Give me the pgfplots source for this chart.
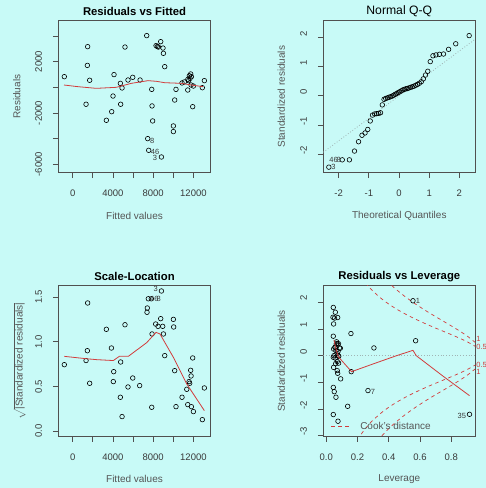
\documentclass[border=0pt]{standalone}
\usepackage{pgfplots}
\pgfplotsset{compat=1.18}
\usepackage{fontspec}
\setmainfont{Liberation Sans}
\definecolor{bgc}{HTML}{C8FAF7}
\definecolor{boxc}{HTML}{505050}
\definecolor{tickc}{HTML}{3A3A3A}
\definecolor{labc}{HTML}{555555}
\definecolor{lowc}{HTML}{D23C3C}
\definecolor{refc}{HTML}{A0B4B4}
\pgfplotsset{
 rpanel/.style={
   scale only axis, width=152.4bp, height=152bp, anchor=south west,
   axis line style={boxc, line width=0.7bp},
   tick style={boxc, line width=0.7bp},
   tick align=outside, major tick length=5.5bp,
   xtick pos=left, ytick pos=left,
   scaled ticks=false,
   /pgf/number format/assume math mode=true,
   tick label style={font=\fontsize{9.5bp}{11bp}\selectfont, text=tickc},
   xticklabel style={anchor=center, yshift=-15bp},
   yticklabel style={anchor=center, xshift=-14.2bp, rotate=90},
   label style={font=\fontsize{10bp}{12bp}\selectfont, text=labc},
   xlabel style={at={(axis description cs:0.5,-0.283)}, anchor=center},
   ylabel style={at={(axis description cs:-0.273,0.5)}, anchor=center},
   title style={at={(axis description cs:0.5,1.02)}, anchor=center, font=\bfseries\fontsize{11.3bp}{13bp}\selectfont},
   clip mode=individual,
 },
 rightcol/.style={yticklabel style={xshift=4bp}},
 rmark/.style={only marks, mark=o, mark size=2.3bp, mark options={line width=0.6bp, black}},
 lowl/.style={lowc, line width=0.8bp, no marks},
 cookl/.style={lowc, line width=0.7bp, no marks, dash pattern=on 3.5bp off 3.5bp, smooth},
}
\newcommand{\idf}{\fontsize{7.5bp}{9bp}\selectfont}
\begin{document}
\begin{tikzpicture}
\fill[bgc] (0,0) rectangle (486bp,488bp);
\useasboundingbox (0,0) rectangle (486bp,488bp);

% ---------------- Residuals vs Fitted
\begin{axis}[rpanel, at={(58.3bp,315.3bp)}, height=152bp,
 xmin=-1428, xmax=13720, ymin=-6655, ymax=5193,
 xtick={0,2000,4000,6000,8000,10000,12000}, xticklabels={0,,4000,,8000,,12000},
 ytick={-6000,-4000,-2000,0,2000,4000}, yticklabels={-6000,,-2000,,2000,},
 title={Residuals vs Fitted}, xlabel={Fitted values}, ylabel={Residuals}]
\addplot[rmark] coordinates {
(-830,830) (1490,3170) (1460,1710) (1690,550) (1330,-1320) (3350,-2570)
(3880,-1900) (4010,-680) (4110,990) (4740,310) (4910,-50) (4770,-1320)
(5200,3140) (5500,570) (5970,780) (6700,570) (7360,4030) (7860,-160)
(7890,-1450) (7950,-2620) (7460,-4000) (7560,-4910) (8820,-5430) (8290,3250)
(8520,3140) (8750,3560) (8980,3060) (9020,2650) (9150,1610) (10010,-3010)
(10010,-3450) (10140,-990) (10270,-160) (10870,340) (11440,-210) (11530,520)
(11670,700) (11730,1040) (11800,830) (11770,180) (11930,-1510) (12000,100)
(12890,-30) (13090,520) (11100,420) (11600,900) (11450,620) (8420,3180)
};
\addplot[lowl] coordinates {
(-860,180) (530,50) (2350,-80) (4340,0) (5830,310) (7490,520) (8300,470)
(9150,360) (10800,310) (11800,180) (12960,50)
};
\node[font=\idf, text=tickc] at (axis cs:7910,-4180) {8};
\node[font=\idf, text=tickc] at (axis cs:8200,-5030) {46};
\node[font=\idf, text=tickc] at (axis cs:8190,-5500) {3};
\end{axis}

% ---------------- Normal Q-Q
\begin{axis}[rpanel, rightcol, at={(323.3bp,315.3bp)}, width=152bp, height=152bp,
 xmin=-2.51, xmax=2.53, ymin=-2.63, ymax=2.57,
 xtick={-2,-1,0,1,2}, xticklabels={-2,-1,0,1,2},
 ytick={-2,-1,0,1,2}, yticklabels={-2,-1,0,1,2},
 title style={font=\fontsize{12.2bp}{14bp}\selectfont},
 title={Normal Q-Q}, xlabel={Theoretical Quantiles}, ylabel={Standardized residuals},
 ylabel style={at={(axis description cs:-0.276,0.5)}}]
\addplot[refc, dotted, line width=0.8bp] coordinates {(-2.51,-1.93) (2.53,1.94)};
\addplot[rmark] coordinates {
(-2.326,-2.44) (-1.881,-2.19) (-1.645,-2.19) (-1.476,-1.89) (-1.341,-1.57)
(-1.227,-1.35) (-1.126,-1.27) (-1.036,-1.15) (-0.954,-0.86) (-0.878,-0.66)
(-0.806,-0.62) (-0.739,-0.61) (-0.674,-0.60) (-0.613,-0.58) (-0.553,-0.31)
(-0.496,-0.12) (-0.440,-0.09) (-0.385,-0.07) (-0.332,-0.05) (-0.279,-0.03)
(-0.228,-0.01) (-0.176,0.02) (-0.126,0.05) (-0.075,0.08) (-0.025,0.11)
(0.025,0.14) (0.075,0.17) (0.126,0.20) (0.176,0.22) (0.228,0.24)
(0.279,0.25) (0.332,0.27) (0.385,0.29) (0.440,0.31) (0.496,0.33)
(0.553,0.36) (0.613,0.39) (0.674,0.43) (0.739,0.48) (0.806,0.58)
(0.878,0.71) (0.954,0.84) (1.036,1.17) (1.126,1.37) (1.227,1.40)
(1.341,1.42) (1.476,1.43) (1.645,1.59) (1.881,1.78) (2.326,2.06)
};
\node[font=\idf, text=tickc] at (axis cs:-2.17,-2.18) {46};
\node[font=\idf, text=tickc] at (axis cs:-2.0,-2.18) {8};
\node[font=\idf, text=tickc] at (axis cs:-2.17,-2.44) {3};
\end{axis}

% ---------------- Scale-Location
\begin{axis}[rpanel, at={(58.3bp,51.7bp)}, height=150.6bp,
 xmin=-1428, xmax=13720, ymin=-0.056, ymax=1.626,
 xtick={0,2000,4000,6000,8000,10000,12000}, xticklabels={0,,4000,,8000,,12000},
 ytick={0,0.5,1,1.5}, yticklabels={0.0,0.5,1.0,1.5},
 title={Scale-Location}, xlabel={Fitted values},
 ylabel={$\sqrt{\mbox{|Standardized residuals|}}$},
 ylabel style={at={(axis description cs:-0.255,0.5)}}]
\addplot[rmark] coordinates {
(-830,0.744) (1490,1.433) (1460,0.90) (1330,0.79) (1690,0.536) (3350,1.139)
(3850,0.93) (4080,0.666) (4040,0.555) (4770,0.774) (4740,0.38) (4910,0.164)
(5200,1.19) (5500,0.495) (5970,0.595) (6660,0.51) (7390,1.329) (7420,1.377)
(7520,1.48) (7820,1.48) (7890,1.087) (7860,0.268) (8820,1.567) (8250,1.198)
(8490,1.172) (8750,1.258) (8950,1.172) (9020,1.087) (9150,0.845) (10010,1.25)
(10040,1.165) (10140,0.677) (10270,0.275) (10870,0.38) (11340,0.469) (11440,0.298)
(11570,0.555) (11630,0.536) (11730,0.681) (11770,0.618) (11800,0.275) (11930,0.819)
(12000,0.22) (12890,0.13) (13090,0.484)
};
\addplot[lowl] coordinates {
(-830,0.837) (1390,0.81) (2390,0.80) (4040,0.79) (4640,0.837) (5530,0.837)
(7360,0.99) (8290,1.105) (8680,1.087) (10010,0.826) (11340,0.528) (13090,0.231)
};
\node[font=\idf, text=tickc] at (axis cs:8250,1.585) {3};
\node[font=\idf, text=tickc] at (axis cs:8120,1.48) {46};
\node[font=\idf, text=tickc] at (axis cs:8560,1.48) {8};
\end{axis}

% ---------------- Residuals vs Leverage
\begin{axis}[rpanel, rightcol, at={(323.3bp,51.7bp)}, width=152bp, height=150.6bp,
 xmin=-0.019, xmax=0.954, ymin=-3.025, ymax=2.625,
 xtick={0,0.2,0.4,0.6,0.8}, xticklabels={0.0,0.2,0.4,0.6,0.8},
 ytick={-3,-2,-1,0,1,2}, yticklabels={-3,-2,-1,0,1,2},
 title={Residuals vs Leverage}, xlabel={Leverage}, ylabel={Standardized residuals},
 ylabel style={at={(axis description cs:-0.276,0.5)}}]
\addplot[refc, dotted, line width=0.8bp] coordinates {(-0.019,0) (0.954,0)};
\addplot[cookl] coordinates {
(0.2,3.162) (0.225,2.934) (0.25,2.739) (0.275,2.567) (0.3,2.415) (0.35,2.155)
(0.4,1.936) (0.45,1.748) (0.5,1.581) (0.55,1.430) (0.6,1.291) (0.65,1.160)
(0.7,1.035) (0.75,0.913) (0.8,0.791) (0.85,0.664) (0.9,0.527) (0.95,0.363) (0.96,0.331)};
\addplot[cookl] coordinates {
(0.2,-3.162) (0.225,-2.934) (0.25,-2.739) (0.275,-2.567) (0.3,-2.415) (0.35,-2.155)
(0.4,-1.936) (0.45,-1.748) (0.5,-1.581) (0.55,-1.430) (0.6,-1.291) (0.65,-1.160)
(0.7,-1.035) (0.75,-0.913) (0.8,-0.791) (0.85,-0.664) (0.9,-0.527) (0.95,-0.363) (0.96,-0.331)};
\addplot[cookl] coordinates {
(0.3,3.416) (0.325,3.223) (0.35,3.047) (0.375,2.887) (0.4,2.739) (0.425,2.601)
(0.45,2.472) (0.5,2.236) (0.55,2.023) (0.6,1.826) (0.65,1.640) (0.7,1.464)
(0.75,1.291) (0.8,1.118) (0.85,0.939) (0.9,0.745) (0.95,0.513) (0.96,0.468)};
\addplot[cookl] coordinates {
(0.3,-3.416) (0.325,-3.223) (0.35,-3.047) (0.375,-2.887) (0.4,-2.739) (0.425,-2.601)
(0.45,-2.472) (0.5,-2.236) (0.55,-2.023) (0.6,-1.826) (0.65,-1.640) (0.7,-1.464)
(0.75,-1.291) (0.8,-1.118) (0.85,-0.939) (0.9,-0.745) (0.95,-0.513) (0.96,-0.468)};
\addplot[rmark] coordinates {
(0.045,1.81) (0.058,1.63) (0.043,1.44) (0.053,1.41) (0.073,1.43) (0.047,1.19)
(0.045,0.73) (0.064,0.44) (0.07,0.46) (0.055,0.31) (0.09,0.28) (0.047,0.25)
(0.075,0.15) (0.045,-0.06) (0.075,0.0) (0.079,-0.28) (0.047,-0.44) (0.07,-0.56)
(0.073,-0.66) (0.092,-0.87) (0.045,-1.19) (0.051,-1.35) (0.062,-1.56) (0.045,-2.21)
(0.075,-2.46) (0.137,-1.90) (0.16,-0.6) (0.158,0.83) (0.305,0.29) (0.267,-1.31)
(0.555,2.06) (0.572,0.56) (0.917,-2.20)
(0.066,0.52) (0.078,0.45) (0.057,0.32) (0.085,0.29) (0.062,0.19) (0.07,0.08)
(0.049,0.0) (0.08,-0.02) (0.057,-0.09) (0.07,-0.22) (0.06,-0.3)
};
\addplot[lowl] coordinates {
(0.049,0.59) (0.06,0.3) (0.077,-0.04) (0.162,-0.6) (0.3,-0.31) (0.45,0.0)
(0.555,0.2) (0.576,0.0) (0.75,-0.78) (0.917,-1.5)
};
\node[font=\idf, text=tickc] at (axis cs:0.587,2.06) {1};
\node[font=\idf, text=tickc] at (axis cs:0.299,-1.35) {7};
\node[font=\idf, text=tickc] at (axis cs:0.868,-2.25) {35};
\node[font=\idf, text=lowc, anchor=west, inner sep=0.5bp] at (axis cs:0.957,0.33) {0.5};
\node[font=\idf, text=lowc, anchor=west, inner sep=0.5bp] at (axis cs:0.957,0.62) {1};
\node[font=\idf, text=lowc, anchor=west, inner sep=0.5bp] at (axis cs:0.957,-0.33) {0.5};
\node[font=\idf, text=lowc, anchor=west, inner sep=0.5bp] at (axis cs:0.957,-0.62) {1};
\draw[lowc, line width=0.7bp, dash pattern=on 3.5bp off 3.5bp] (axis cs:0.032,-2.65) -- (axis cs:0.145,-2.65);
\node[font=\fontsize{10bp}{12bp}\selectfont, text=labc, anchor=west] at (axis cs:0.195,-2.65) {Cook's distance};
\end{axis}
\end{tikzpicture}
\end{document}
